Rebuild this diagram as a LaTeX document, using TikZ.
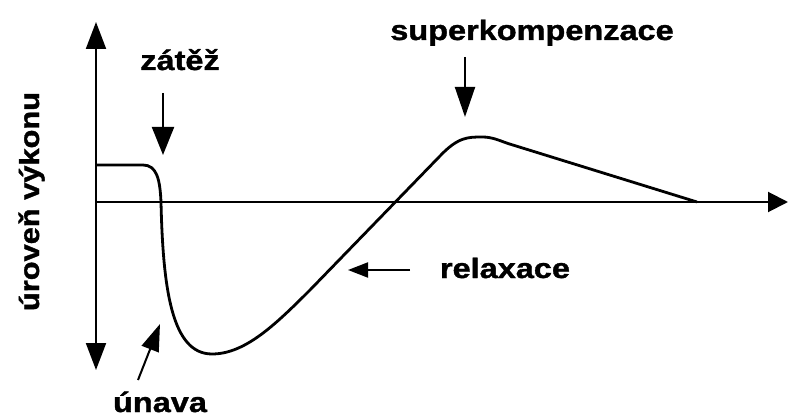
\documentclass[tikz,border=0pt]{standalone}
\usepackage{fontspec}
\usepackage{graphicx}
\setmainfont{Liberation Sans}
\newfontfamily\heavyfont{Liberation Sans Bold}[FakeBold=1.2]
\usetikzlibrary{arrows.meta}
\begin{document}
\begin{tikzpicture}[x=1pt,y=-1pt,
  axis/.style={line width=2pt},
  curve/.style={line width=2.8pt,line join=round},
  pointer/.style={line width=2pt},
  lbl/.style={inner sep=0pt,font=\fontsize{28}{34}\heavyfont},
]
\useasboundingbox (0,0) rectangle (788,417);
% axes
\coordinate (ytop) at (96,22);
\coordinate (ybot) at (96,370);
\coordinate (xorig) at (96,202);
\coordinate (xend) at (788,202);
\draw[axis,{Triangle[length=27pt,width=20pt]}-{Triangle[length=27pt,width=20pt]}] (ybot) -- (ytop);
\draw[axis,-{Triangle[length=20pt,width=20pt]}] (xorig) -- (xend);
% curve
\draw[curve] (96,165) -- (143,165) .. controls (157,165) and (160,180) .. (161,202)
  .. controls (163,290) and (172,354) .. (212,354)
  .. controls (245,354) and (275,325) .. (310,290)
  -- (440,156) .. controls (458,137) and (468,137) .. (482,137)
  .. controls (492,137) and (498,140) .. (508,143.5) -- (697,202);
% labels
\node[lbl,anchor=base] (zatez) at (180,70) {\scalebox{1.16}[1]{zátěž}};
\node[lbl,anchor=base] (super) at (532,40) {\scalebox{1.16}[1]{superkompenzace}};
\node[lbl,anchor=base] (relax) at (505,278) {\scalebox{1.16}[1]{relaxace}};
\node[lbl,anchor=base] (unava) at (160,412) {\scalebox{1.16}[1]{únava}};
\node[lbl,anchor=base,rotate=90,font=\fontsize{27.5}{33}\heavyfont] (uroven) at (39,201.5) {\scalebox{1.12}[1]{úroveň výkonu}};
% pointers
\coordinate (zt) at (163,93);
\coordinate (zh) at (163,155);
\coordinate (st) at (465,57);
\coordinate (sh) at (465,117);
\coordinate (rt) at (410,270);
\coordinate (rh) at (348,270);
\coordinate (ut) at (138,380);
\coordinate (uh) at (160,324);
\draw[pointer,-{Triangle[length=28pt,width=22pt]}] (zt) -- (zh);
\draw[pointer,-{Triangle[length=30pt,width=20pt]}] (st) -- (sh);
\draw[pointer,-{Triangle[length=20pt,width=15pt]}] (rt) -- (rh);
\draw[pointer,-{Triangle[length=27pt,width=18pt]}] (ut) -- (uh);
\end{tikzpicture}
\end{document}
